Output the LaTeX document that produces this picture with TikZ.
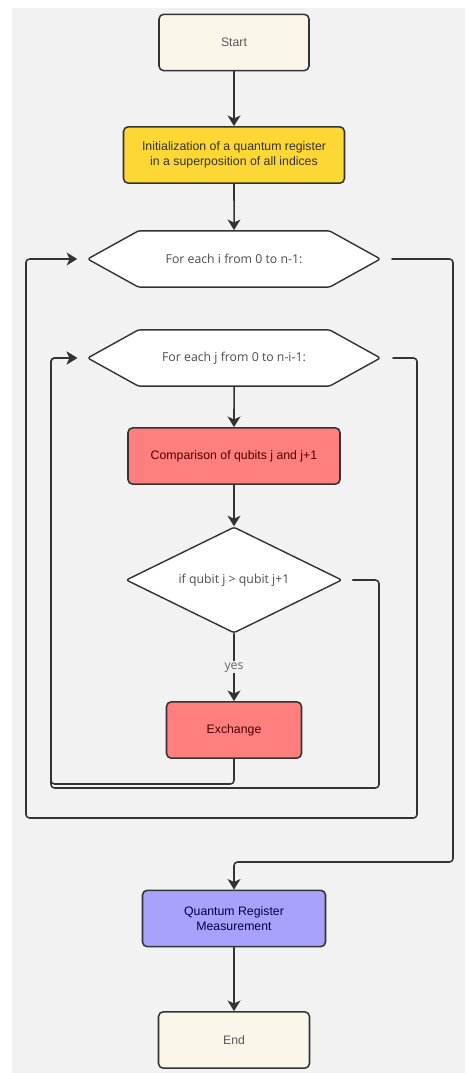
\documentclass[tikz,border=0pt]{standalone}
\usepackage{fontspec}
\setmainfont{Liberation Sans}
\newfontfamily\loopfont{Open Sans}
\usetikzlibrary{arrows.meta,shapes.geometric,shapes.symbols}
\definecolor{bgcol}{HTML}{F2F2F2}
\definecolor{linecol}{HTML}{333333}
\definecolor{creamcol}{HTML}{FAF6EA}
\definecolor{yellowcol}{HTML}{FDD835}
\definecolor{redcol}{HTML}{FF7F7F}
\definecolor{purplecol}{HTML}{A8A2FD}
\begin{document}
\begin{tikzpicture}[x=0.03cm,y=-0.03cm,line cap=round,line join=round,
  box/.style={draw=linecol,line width=1.3pt,rounded corners=4pt,align=center,
    minimum height=1.69cm,font=\fontsize{10.5}{12.8}\selectfont},
  loopbox/.style={signal,signal to=west and east,signal pointer angle=58,
    draw=linecol,line width=1.2pt,fill=white,rounded corners=2pt,
    minimum width=8.78cm,minimum height=1.69cm,text=black!70,
    font=\loopfont\fontsize{10.5}{12.5}\selectfont},
  testbox/.style={diamond,aspect=2.04,draw=linecol,line width=1.2pt,fill=white,
    rounded corners=2pt,minimum width=6.48cm,minimum height=3.18cm,inner sep=0pt,
    text=black!70,font=\loopfont\fontsize{10.5}{12.5}\selectfont},
  conn/.style={draw=linecol,line width=1.3pt,
    -{Stealth[length=9pt,width=11pt,inset=2.5pt]}},
  loopconn/.style={conn,rounded corners=3pt}]
  \useasboundingbox (0,0) rectangle (467,1073);
  \fill[bgcol] (12,8) rectangle (465,1073);

  \node[box,fill=creamcol,minimum width=4.5cm,text=black!65] (start) at (234,42.5) {Start};
  \node[box,fill=yellowcol,minimum width=6.63cm,text=black!80] (init) at (234,155)
    {Initialization of a quantum register\\in a superposition of all indices};
  \node[loopbox] (fori) at (234,259) {For each i from 0 to n-1:};
  \node[loopbox] (forj) at (234,358) {For each j from 0 to n-i-1:};
  \node[box,fill=redcol,minimum width=6.36cm,text=red!30!black] (compare) at (234,456)
    {Comparison of qubits j and j+1};
  \node[testbox] (ifq) at (234,580) {if qubit j > qubit j+1};
  \node[box,fill=redcol,minimum width=4.05cm,text=red!30!black] (swap) at (234,730) {Exchange};
  \node[box,fill=purplecol,minimum width=5.49cm,text=blue!25!black] (measure) at (234,918.5)
    {Quantum Register\\Measurement};
  \node[box,fill=creamcol,minimum width=4.53cm,text=black!65] (end) at (234,1040) {End};

  \draw[conn] (start) -- (init);
  \draw[conn] (init) -- (fori);
  \draw[conn] (forj) -- (compare);
  \draw[conn] (compare) -- (ifq);
  \draw[conn] (ifq) -- (swap)
    node[midway,fill=bgcol,inner sep=1pt,text=black!60,font=\loopfont\fontsize{10.5}{12.5}\selectfont] {yes};
  \draw[loopconn,shorten >=0.27cm] (swap.south) -- (234,784) -- (51,784) -- (51,358) -- (forj.west);
  \draw[loopconn,shorten <=0.3cm,shorten >=0.27cm] (ifq.east) -- (379,580) -- (379,788)
    -- (51,788) -- (51,358) -- (forj.west);
  \draw[loopconn,shorten <=0.33cm,shorten >=0.27cm] (forj.east) -- (417,358) -- (417,818)
    -- (26,818) -- (26,259) -- (fori.west);
  \draw[loopconn,shorten <=0.3cm] (fori.east) -- (453,259) -- (453,862) -- (234,862) -- (measure.north);
  \draw[conn] (measure) -- (end);
\end{tikzpicture}
\end{document}
